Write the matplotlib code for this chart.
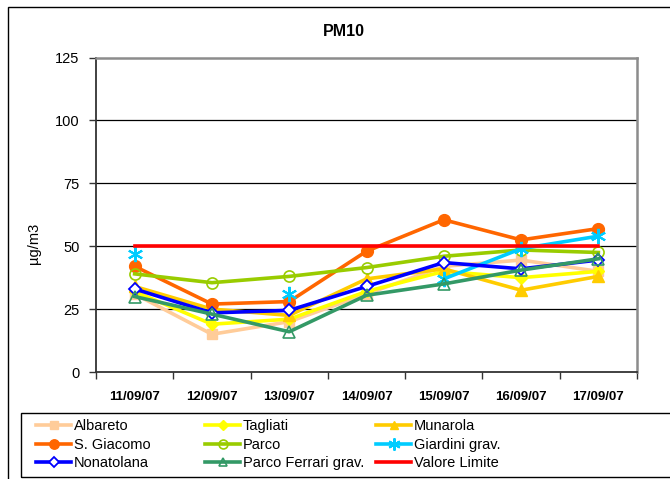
import numpy as np
import matplotlib.pyplot as plt
from matplotlib.patches import Rectangle

plt.rcParams['font.family'] = ['Liberation Sans', 'DejaVu Sans']

# Data
dates = ['11/09/07', '12/09/07', '13/09/07', '14/09/07',
         '15/09/07', '16/09/07', '17/09/07']
albareto = [31, 15, 20, 31, 42, 44.5, 40]
tagliati = [32, 19, 21, 32, 40, 37.5, 40]
munarola = [34, 25, 22.5, 37, 41, 32.5, 38]
s_giacomo = [42, 27, 28, 48, 60.5, 52.5, 57]
parco = [39, 35.5, 38, 41.5, 46, 48.5, 47.5]
giardini = [47, np.nan, 31, np.nan, 37, 49, 54]
nonatolana = [33, 23.5, 24.5, 34, 43.5, 41, 44.5]
parco_ferrari = [30, 23, 16, 30.5, 35, 40.5, 45]
valore_limite = [50, 50, 50, 50, 50, 50, 50]
y_ticks = [0, 25, 50, 75, 100, 125]

W, H = 670, 479
fig = plt.figure(figsize=(W / 100, H / 100), dpi=100)


def fx(px):
    return px / W


def fy(py):
    return 1 - py / H


# chart area border (cropped on the right in the original)
fig.patches.append(Rectangle((fx(8), fy(720)), fx(760), fy(7) - fy(720),
                             transform=fig.transFigure, fill=False,
                             edgecolor='black', lw=1.0))

ax = fig.add_axes([fx(96), fy(372), fx(637) - fx(96), fy(57.5) - fy(372)])
x = np.arange(len(dates))

series = [
    ('Albareto', albareto, dict(color='#FFCC99', marker='s', ms=7,
                                mfc='#FFCC99', mec='#FFCC99')),
    ('Tagliati', tagliati, dict(color='#FFFF00', marker='D', ms=6,
                                mfc='#FFFF00', mec='#FFFF00')),
    ('Munarola', munarola, dict(color='#FFCC00', marker='^', ms=8,
                                mfc='#FFCC00', mec='#FFCC00')),
    ('S. Giacomo', s_giacomo, dict(color='#FF6600', marker='o', ms=8.5,
                                   mfc='#FF6600', mec='#FF6600')),
    ('Parco', parco, dict(color='#99CC00', marker='o', ms=8,
                          mfc='none', mec='#99CC00', mew=1.2)),
    ('Giardini grav.', giardini, dict(color='#00CCFF', marker=(6, 2, 0), ms=11,
                                      mec='#00CCFF', mew=1.5)),
    ('Nonatolana', nonatolana, dict(color='#0000FF', marker='D', ms=6.5,
                                    mfc='white', mec='#0000FF', mew=1.3)),
    ('Parco Ferrari grav.', parco_ferrari, dict(color='#339966', marker='^',
                                                ms=8, mfc='none',
                                                mec='#339966', mew=1.2)),
    ('Valore Limite', valore_limite, dict(color='#FF0000')),
]

handles = []
for i, (name, vals, kw) in enumerate(series):
    ln, = ax.plot(x, vals, lw=2.6, zorder=3 + i, label=name, **kw)
    handles.append(ln)

ax.set_xlim(-0.5, len(dates) - 0.5)
ax.set_ylim(0, 125)
ax.set_yticks(y_ticks)
ax.set_yticklabels([str(v) for v in y_ticks], fontsize=10.5)
ax.set_xticks(x)
ax.set_xticklabels(dates, fontsize=9.5, fontweight='bold')
ax.set_xticks(np.arange(-0.5, len(dates)), minor=True)
ax.tick_params(axis='x', which='major', length=0, pad=14)
ax.tick_params(axis='x', which='minor', length=5, direction='out',
               width=1, color='#333333')
ax.tick_params(axis='y', length=5, direction='out', width=1,
               color='#333333', pad=7)

for yv in y_ticks[1:-1]:
    ax.axhline(yv, color='black', lw=0.9, zorder=1)

for side in ('left', 'bottom'):
    ax.spines[side].set_color('#333333')
    ax.spines[side].set_linewidth(1.3)
for side in ('top', 'right'):
    ax.spines[side].set_color('#8C8C8C')
    ax.spines[side].set_linewidth(1.8)

fig.text(fx(344), fy(31), 'PM10', fontsize=11.5, fontweight='bold',
         ha='center', va='center')
fig.text(fx(34), fy(243), 'µg/m3', fontsize=10.5, rotation=90,
         ha='center', va='center')

# legend box
fig.patches.append(Rectangle((fx(20.5), fy(477)), fx(700), fy(413) - fy(477),
                             transform=fig.transFigure, fill=False,
                             edgecolor='black', lw=1.0))

col_x = [36, 205, 376]
for c in range(3):
    idx = [c, c + 3, c + 6]
    fig.legend([handles[i] for i in idx], [series[i][0] for i in idx],
               loc='upper left', bbox_to_anchor=(fx(col_x[c]), fy(419)),
               frameon=False, borderpad=0, borderaxespad=0,
               handlelength=2.4, handletextpad=0.2, labelspacing=0.32,
               fontsize=10.5, numpoints=1, markerscale=0.8)

fig.savefig('out.png', dpi=100)
